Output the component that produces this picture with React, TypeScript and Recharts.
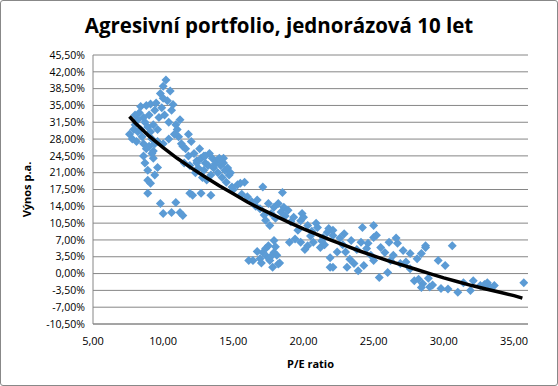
import React from "react";
import {
  ScatterChart,
  Scatter,
  XAxis,
  YAxis,
  ZAxis,
  CartesianGrid,
} from "recharts";

// P/E ratio vs. annual return (%)
const peRatio = [
  7.6, 7.8, 7.9, 8.0, 8.1, 8.2, 8.3, 8.4, 8.5, 8.6, 8.7, 8.8, 8.9, 9.0, 9.1, 9.2, 9.3, 9.4, 9.5, 9.6,
  9.7, 9.8, 9.9, 10.0, 10.1, 10.2, 10.3, 10.4, 10.5, 10.6, 10.7, 10.9, 11.0, 11.1, 11.2, 10.8, 9.0, 9.3, 8.8, 9.6,
  10.0, 10.4, 11.4, 8.4, 8.6, 9.1, 9.4, 10.0, 8.2, 8.0,
  8.7, 9.3, 9.6, 8.9, 8.9, 9.1, 9.4, 8.9, 9.8, 10.0, 10.6, 10.9, 11.2, 11.4, 11.9, 9.2, 8.6,
  11.3, 11.6, 11.8, 12.0, 12.2, 12.4, 12.5, 12.7, 12.9, 13.0, 13.2, 13.4, 13.5, 13.6, 13.8, 13.9, 14.0, 14.1, 14.2, 14.3,
  14.4, 14.5, 14.6, 14.7, 13.1, 12.8, 12.3, 11.9, 11.5, 15.3, 15.0, 15.6, 16.0, 16.3, 16.6, 12.1, 12.7, 13.4, 15.8, 14.9,
  13.3, 12.6, 11.8, 12.9, 13.7, 14.3, 14.8, 12.4, 13.0, 14.1,
  15.5, 17.1, 18.5, 16.7, 17.5, 17.9, 18.2, 18.6, 17.3, 17.6, 18.9, 19.3, 19.9, 20.3, 21.0, 21.7, 22.1, 21.8, 16.9, 17.7,
  18.0, 18.4, 19.1, 19.6, 20.6, 20.9, 21.4, 17.2, 18.7, 19.8,
  17.9, 17.5, 17.1, 17.9, 16.9, 16.4, 16.1, 17.6, 17.8, 18.1, 19.0, 19.8, 20.3, 20.7, 21.2, 21.9, 21.9, 17.3, 17.0, 18.3,
  16.7, 18.0, 17.4, 19.4, 20.1, 21.5, 22.4, 17.7, 18.2,
  22.1, 22.9, 24.2, 25.0, 23.4, 24.1, 24.6, 25.0, 25.5, 26.1, 26.7, 27.1, 27.6, 28.1, 28.7, 28.4, 22.1, 23.1, 23.6, 23.9,
  24.3, 25.4, 26.0, 25.0, 26.2, 26.9, 27.6, 27.9, 28.5, 28.9, 20.0, 22.6, 23.0, 23.8, 24.8, 25.8, 26.4, 27.3, 22.8, 24.5,
  25.2, 26.6, 21.3, 20.5, 23.3,
  28.7, 30.6, 29.6, 30.1, 28.4, 29.2, 29.8, 31.0, 31.4, 31.9, 32.1, 32.6, 33.1, 33.6, 35.7, 30.3, 29.0, 32.9, 33.3, 28.2,
];

const returnPa = [
  29.0, 28.0, 30.0, 31.0, 27.5, 29.5, 33.5, 34.8, 28.5, 27.0, 31.5, 35.0, 30.5, 33.0, 35.3, 28.0, 31.0, 34.0, 35.5, 30.0,
  32.5, 37.5, 34.5, 39.0, 33.0, 40.3, 36.0, 31.5, 38.0, 34.0, 35.2, 31.0, 30.0, 28.5, 32.0, 29.0, 26.5, 25.5, 26.0, 27.5,
  27.0, 28.0, 26.5, 30.0, 32.5, 29.5, 27.0, 36.5, 32.0, 33.0,
  23.0, 24.0, 22.1, 21.5, 19.4, 18.8, 20.5, 16.7, 14.6, 12.5, 12.7, 14.8, 12.7, 12.1, 16.7, 25.0, 24.5,
  27.0, 26.0, 24.5, 27.5, 25.0, 23.5, 22.0, 24.0, 21.5, 23.0, 22.5, 20.5, 24.0, 22.0, 23.5, 21.0, 24.0, 22.5, 20.0, 23.0,
  21.5, 19.0, 22.0, 20.5, 19.5, 20.0, 21.0, 22.5, 23.0, 18.5, 17.5, 16.5, 16.0, 15.0, 14.0, 16.3, 16.7, 16.3, 19.0, 18.0,
  25.0, 26.0, 29.0, 24.5, 22.8, 24.0, 21.0, 23.0, 24.5, 23.5,
  18.8, 18.0, 16.9, 15.3, 14.6, 13.8, 14.6, 13.8, 11.1, 10.0, 13.2, 11.7, 12.5, 10.0, 9.6, 8.6, 7.9, 9.4, 13.5, 12.5,
  11.5, 12.8, 10.8, 9.0, 8.8, 10.5, 7.5, 12.2, 12.0, 11.0,
  6.9, 5.8, 4.4, 4.4, 3.1, 2.7, 2.7, 2.7, 1.3, 3.8, 6.5, 6.5, 5.8, 6.5, 5.4, 1.3, 3.3, 5.2, 2.2, 2.2,
  4.6, 5.6, 3.5, 7.2, 5.0, 6.0, 4.5, 3.6, 2.0,
  9.0, 8.3, 9.6, 10.0, 6.9, 6.5, 6.3, 7.5, 5.4, 6.5, 6.3, 4.8, 4.2, 3.1, 5.4, 4.2, 1.3, 1.3, 2.1, 0.6,
  1.7, -0.8, 0.2, 2.7, 2.7, 2.1, 1.0, -1.5, -2.1, -1.0, 11.7, 7.4, 4.5, 5.0, 3.8, 4.4, 3.8, 2.4, 6.0, 5.2,
  8.0, 7.4, 6.8, 7.8, 3.0,
  5.8, 5.8, 2.7, 1.7, -2.9, -2.4, -3.1, -3.9, -1.9, -3.5, -1.5, -2.5, -1.9, -2.5, -1.9, -3.2, -2.8, -2.3, -2.8, -1.2,
];

// trend curve points
const trendPe = [7.6, 8, 9, 10, 11, 12, 13, 14, 15, 16, 17, 18, 19, 20, 21, 22, 23, 24, 25, 26, 27, 28, 29, 30, 31, 32, 33, 34, 35, 35.6];
const trendReturn = [32.7, 31.4, 28.6, 26.2, 24.0, 22.0, 20.1, 18.3, 16.6, 14.9, 13.4, 12.0, 10.6, 9.3, 8.1, 6.9, 5.8, 4.7, 3.7, 2.7, 1.8, 0.9, 0.0, -0.9, -1.7, -2.5, -3.2, -3.9, -4.6, -5.1];

const yTicks = [-10.5, -7, -3.5, 0, 3.5, 7, 10.5, 14, 17.5, 21, 24.5, 28, 31.5, 35, 38.5, 42, 45.5];
const xTicks = [5, 10, 15, 20, 25, 30, 35];

const points = peRatio.map((pe, i) => ({ pe, ret: returnPa[i] }));
const trend = trendPe.map((pe, i) => ({ pe, ret: trendReturn[i] }));

const FONT = "'Open Sans', 'Noto Sans', sans-serif";

const Diamond = (props: any) => {
  const { cx, cy } = props;
  const r = 4.5;
  return (
    <path
      d={`M${cx},${cy - r}L${cx + r},${cy}L${cx},${cy + r}L${cx - r},${cy}Z`}
      fill="#5B9BD5"
    />
  );
};

const fmtPct = (v: number) => v.toFixed(2).replace(".", ",") + "%";
const fmtNum = (v: number) => v.toFixed(2).replace(".", ",");

export default function App() {
  return (
    <div
      style={{
        position: "absolute",
        left: 0,
        top: 0,
        width: 556,
        height: 384,
        border: "1px solid #888",
        borderRadius: 3,
        background: "#fff",
        fontFamily: FONT,
      }}
    >
      <div
        style={{
          position: "absolute",
          top: 10,
          left: 0,
          width: 556,
          textAlign: "center",
          fontSize: 20.5,
          fontWeight: 700,
          color: "#000",
        }}
      >
        Agresivní portfolio, jednorázová 10 let
      </div>
      <ScatterChart
        width={556}
        height={384}
        margin={{ top: 54, right: 29, bottom: 10, left: 0 }}
      >
        <CartesianGrid horizontal vertical={false} stroke="#868686" strokeWidth={1} />
        <XAxis
          type="number"
          dataKey="pe"
          domain={[5, 36]}
          ticks={xTicks}
          tickFormatter={fmtNum}
          allowDataOverflow
          stroke="#868686"
          tick={{ fill: "#000", fontSize: 11, fontFamily: FONT, dy: 5 }}
          tickLine={false}
          height={51}
          label={{
            value: "P/E ratio",
            position: "insideBottom",
            offset: 7,
            fill: "#000",
            fontSize: 11,
            fontWeight: 700,
            fontFamily: FONT,
          }}
        />
        <YAxis
          type="number"
          dataKey="ret"
          domain={[-10.5, 45.5]}
          ticks={yTicks}
          tickFormatter={fmtPct}
          allowDataOverflow
          interval={0}
          stroke="#868686"
          tick={{ fill: "#000", fontSize: 10.5, fontFamily: FONT }}
          tickLine={false}
          width={92}
          label={{
            value: "Výnos p.a.",
            angle: -90,
            position: "insideLeft",
            offset: 26,
            fill: "#000",
            fontSize: 11,
            fontWeight: 700,
            fontFamily: FONT,
            style: { textAnchor: "middle" },
          }}
        />
        <ZAxis range={[60, 60]} />
        <Scatter data={points} shape={<Diamond />} isAnimationActive={false} />
        <Scatter
          data={trend}
          line={{ stroke: "#000", strokeWidth: 3.5 }}
          lineType="joint"
          shape={() => null}
          isAnimationActive={false}
        />
      </ScatterChart>
    </div>
  );
}
